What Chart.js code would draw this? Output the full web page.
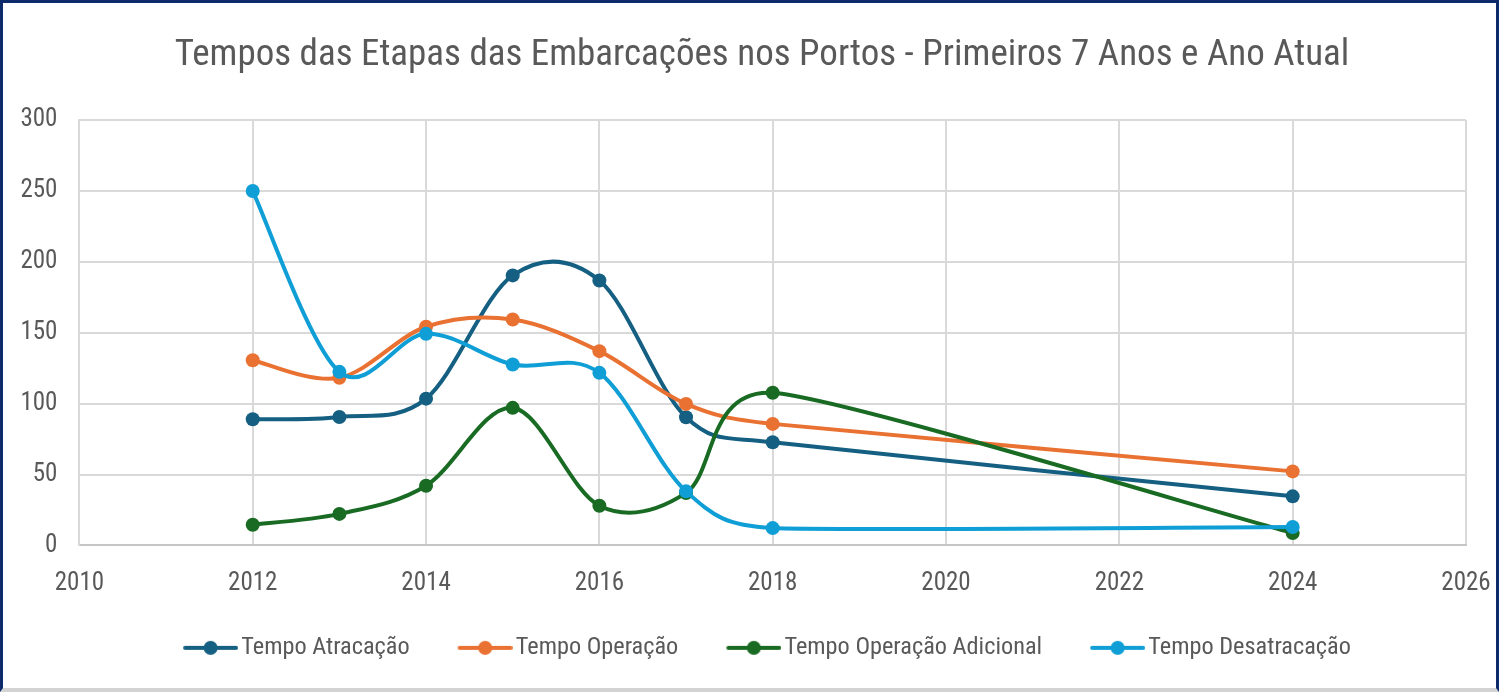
<!DOCTYPE html>
<html><head><meta charset="utf-8">
<script src="https://cdn.jsdelivr.net/npm/chart.js@4.4.1/dist/chart.umd.min.js"></script>
<style>
html,body{margin:0;padding:0;background:#fff;}
#frame{width:1499px;height:692px;box-sizing:border-box;border-top:3px solid #0d2b6b;border-left:3px solid #0d2b6b;border-right:3px solid #0d2b6b;border-bottom:4px solid #d3d3d3;background:#fff;}
canvas{display:block;}
</style></head><body>
<div id="frame"><canvas id="c" width="1493" height="685"></canvas></div>
<script>
const chartTitle = 'Tempos das Etapas das Embarcações nos Portos - Primeiros 7 Anos e Ano Atual';
const years = [2012, 2013, 2014, 2015, 2016, 2017, 2018, 2024];
const seriesNames = ['Tempo Atracação', 'Tempo Operação', 'Tempo Operação Adicional', 'Tempo Desatracação'];
const tempoAtracacao = [89, 90.6, 103.5, 190.4, 186.8, 90.4, 72.7, 34.6];
const tempoOperacao = [130.6, 118.2, 154.2, 159.3, 137, 99.8, 85.7, 52.2];
const tempoOperacaoAdicional = [14.6, 22.2, 42.1, 97, 28, 37, 107.6, 8.7];
const tempoDesatracacao = [249.9, 122.4, 149.2, 127.6, 121.7, 38.1, 12.2, 13];
const seriesColors = ['#156082', '#E97132', '#196B24', '#0F9ED5'];
const xMin = 2010, xMax = 2026, xStep = 2;
const yMin = 0, yMax = 300, yStep = 50;

const FONT = "'Roboto Condensed', Roboto, sans-serif";
const TEXT = '#595959';
Chart.defaults.font.family = FONT;

const allSeries = [tempoAtracacao, tempoOperacao, tempoOperacaoAdicional, tempoDesatracacao];

function legendIcon(color) {
  const W = 92, H = 16, L = 55;
  const c = document.createElement('canvas');
  c.width = W; c.height = H;
  const g = c.getContext('2d');
  g.strokeStyle = color; g.lineWidth = 4; g.lineCap = 'round';
  g.beginPath(); g.moveTo(W - L + 2, H / 2); g.lineTo(W - 2, H / 2); g.stroke();
  g.fillStyle = color;
  g.beginPath(); g.arc(W - L / 2, H / 2, 7, 0, Math.PI * 2); g.fill();
  return c;
}
const icons = seriesColors.map(legendIcon);

// Excel-like smoothing: Catmull-Rom handles (1/6 of neighbour chord), limited on short segments
const excelSmooth = {
  id: 'excelSmooth',
  beforeDatasetDraw(chart, args) {
    const meta = args.meta;
    const line = meta.dataset;
    if (!line) return;
    line.updateControlPoints(chart.chartArea, 'x');
    const pts = meta.data;
    const dist = (a, b) => Math.hypot(b.x - a.x, b.y - a.y);
    for (let i = 0; i < pts.length; i++) {
      const cur = pts[i];
      const prev = pts[i - 1] || cur;
      const next = pts[i + 1] || cur;
      let f = 1 / 6;
      if (i > 0 && i < pts.length - 1) {
        const d01 = dist(prev, cur), d12 = dist(cur, next), d02 = dist(prev, next);
        const m = Math.min(d01, d12);
        if (d02 / 6 >= m / 2) f = m / (2 * d02);
      }
      const dx = (next.x - prev.x) * f, dy = (next.y - prev.y) * f;
      cur.cp1x = cur.x - dx; cur.cp1y = cur.y - dy;
      cur.cp2x = cur.x + dx; cur.cp2y = cur.y + dy;
    }
  }
};
const layoutTweaks = {
  id: 'layoutTweaks',
  afterLayout(chart) {
    chart.scales.y.left = 0;
    if (chart.titleBlock) chart.titleBlock.left += 31;
    if (chart.legend) { chart.legend.left += 6.5; chart.legend.right += 6.5; }
  }
};

const datasets = allSeries.map((vals, i) => ({
  label: seriesNames[i],
  data: years.map((yr, j) => ({ x: yr, y: vals[j] })),
  borderColor: seriesColors[i],
  backgroundColor: seriesColors[i],
  pointBackgroundColor: seriesColors[i],
  pointBorderColor: seriesColors[i],
  pointBorderWidth: 0,
  pointRadius: 7,
  pointHoverRadius: 7,
  borderWidth: 4,
  tension: 0.4,
  fill: false,
  order: allSeries.length - i
}));

new Chart(document.getElementById('c'), {
  type: 'line',
  data: { datasets },
  plugins: [excelSmooth, layoutTweaks],
  options: {
    responsive: false,
    animation: false,
    events: [],
    layout: { padding: { left: 24, right: 30, top: 0, bottom: 18 } },
    plugins: {
      tooltip: { enabled: false },
      title: {
        display: true,
        text: chartTitle,
        color: TEXT,
        font: { size: 37, weight: 'normal', lineHeight: 1.2 },
        padding: { top: 30.5, bottom: 42.1 }
      },
      legend: {
        position: 'bottom',
        labels: {
          color: TEXT,
          font: { size: 24.3 },
          usePointStyle: true,
          pointStyleWidth: 74,
          padding: 20,
          generateLabels: (chart) => {
            const items = Chart.defaults.plugins.legend.labels.generateLabels(chart);
            items.sort((a, b) => a.datasetIndex - b.datasetIndex);
            items.forEach(it => { it.pointStyle = icons[it.datasetIndex]; });
            return items;
          }
        }
      }
    },
    scales: {
      x: {
        type: 'linear',
        min: xMin, max: xMax,
        ticks: { stepSize: xStep, color: TEXT, font: { size: 25 }, padding: 23, callback: v => String(v) },
        grid: { color: '#d9d9d9', lineWidth: 2, drawTicks: false },
        border: { color: '#c6c6c6', width: 2 },
        afterFit: (s) => { s.height = 70.3; s.paddingLeft = 0; s.paddingRight = 0; }
      },
      y: {
        min: yMin, max: yMax,
        ticks: { stepSize: yStep, color: TEXT, font: { size: 25 }, padding: 22 },
        grid: { color: '#d9d9d9', lineWidth: 2, drawTicks: false },
        border: { color: '#d9d9d9', width: 2 },
        afterFit: (s) => { s.width = 52.4; s.paddingTop = 0; s.paddingBottom = 0; }
      }
    }
  }
});
</script>
</body></html>
